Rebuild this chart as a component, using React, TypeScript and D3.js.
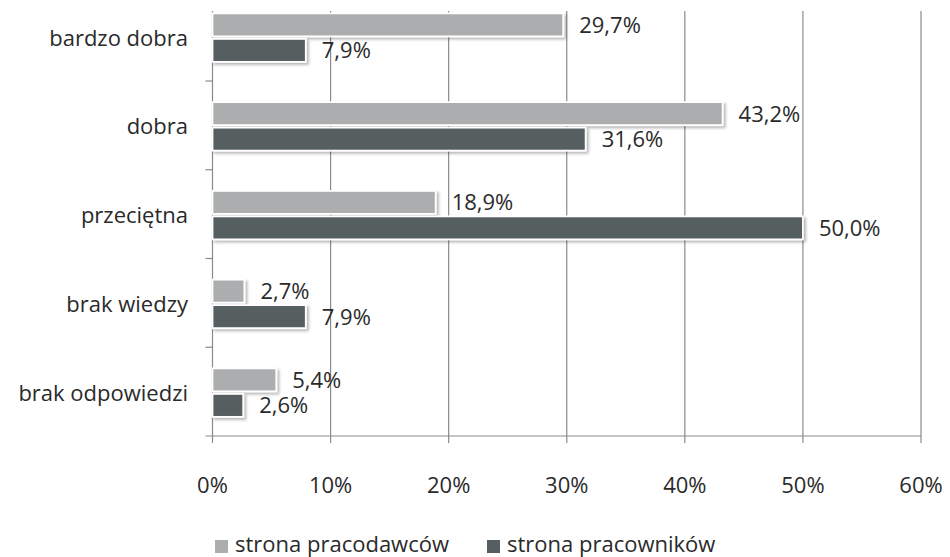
import React from "react";
import * as d3 from "d3";

const categories = ["bardzo dobra", "dobra", "przeciętna", "brak wiedzy", "brak odpowiedzi"];
const seriesNames = ["strona pracodawców", "strona pracowników"];
const employers = [29.7, 43.2, 18.9, 2.7, 5.4];
const employees = [7.9, 31.6, 50.0, 7.9, 2.6];
const xTicks = [0, 10, 20, 30, 40, 50, 60];
const colors = ["#abadaf", "#575e61"];

const W = 950;
const H = 557;
const FONT = "'Open Sans', 'Noto Sans', sans-serif";
const FS = 22;
const TEXT = "#2a2a2a";

export default function App() {
  const left = 212.5;
  const right = 921;
  const bandTop = -7.75;
  const bottom = 436;
  const gridTop = 11;

  const x = d3.scaleLinear().domain([0, 60]).range([left, right]);
  const y = d3.scaleBand<string>().domain(categories).range([bandTop, bottom]);
  const barH = 23;
  const gap = 2.5;

  const series = [employers, employees];
  const fmt = (v: number) => v.toFixed(1).replace(".", ",") + "%";

  return (
    <svg width={W} height={H} style={{ position: "absolute", left: 0, top: 0, background: "#fff" }}>
      <defs>
        <filter id="shadow" x="-10%" y="-30%" width="130%" height="180%">
          <feDropShadow dx="2" dy="2" stdDeviation="1.8" floodColor="#000" floodOpacity="0.3" />
        </filter>
      </defs>

      {/* vertical gridlines */}
      {xTicks.slice(1).map((t) => (
        <line key={t} x1={x(t)} x2={x(t)} y1={gridTop} y2={bottom} stroke="#8a8a8a" strokeWidth={1.2} />
      ))}

      {/* category axis with ticks at band boundaries */}
      <line x1={left} x2={left} y1={gridTop} y2={bottom + 7} stroke="#8a8a8a" strokeWidth={1.2} />
      {categories.map((c, i) => {
        const yb = (y(c) as number) + y.bandwidth();
        return i < categories.length - 1 ? (
          <line key={c} x1={left - 7} x2={left} y1={yb} y2={yb} stroke="#8a8a8a" strokeWidth={1.2} />
        ) : null;
      })}
      <line x1={left - 7} x2={right} y1={bottom} y2={bottom} stroke="#8a8a8a" strokeWidth={1.2} />
      {xTicks.slice(1).map((t) => (
        <line key={"t" + t} x1={x(t)} x2={x(t)} y1={bottom} y2={bottom + 7} stroke="#8a8a8a" strokeWidth={1.2} />
      ))}

      {/* bars */}
      {categories.map((c, i) => {
        const center = (y(c) as number) + y.bandwidth() / 2 + 1;
        return series.map((s, k) => {
          const yTop = k === 0 ? center - gap / 2 - barH : center + gap / 2;
          return (
            <g key={c + k}>
              <rect
                x={x(0)}
                y={yTop}
                width={x(s[i]) - x(0)}
                height={barH}
                fill={colors[k]}
                stroke="#fff"
                strokeWidth={1.8}
                filter="url(#shadow)"
              />
              <text
                x={x(s[i]) + 16}
                y={yTop + barH / 2 + 2}
                dominantBaseline="middle"
                fontFamily={FONT}
                fontSize={FS}
                fill={TEXT}
              >
                {fmt(s[i])}
              </text>
            </g>
          );
        });
      })}

      {/* category labels */}
      {categories.map((c) => (
        <text
          key={"l" + c}
          x={188}
          y={(y(c) as number) + y.bandwidth() / 2 + 3}
          textAnchor="end"
          dominantBaseline="middle"
          fontFamily={FONT}
          fontSize={FS}
          fill={TEXT}
        >
          {c}
        </text>
      ))}

      {/* x tick labels */}
      {xTicks.map((t) => (
        <text
          key={"x" + t}
          x={x(t)}
          y={487}
          textAnchor="middle"
          dominantBaseline="middle"
          fontFamily={FONT}
          fontSize={FS}
          fill={TEXT}
        >
          {t + "%"}
        </text>
      ))}

      {/* legend */}
      {seriesNames.map((n, k) => {
        const lx = k === 0 ? 215 : 487;
        return (
          <g key={n}>
            <rect x={lx} y={540} width={13} height={13} fill={colors[k]} />
            <text x={lx + 20} y={546} dominantBaseline="middle" fontFamily={FONT} fontSize={FS} fill={TEXT}>
              {n}
            </text>
          </g>
        );
      })}
    </svg>
  );
}
